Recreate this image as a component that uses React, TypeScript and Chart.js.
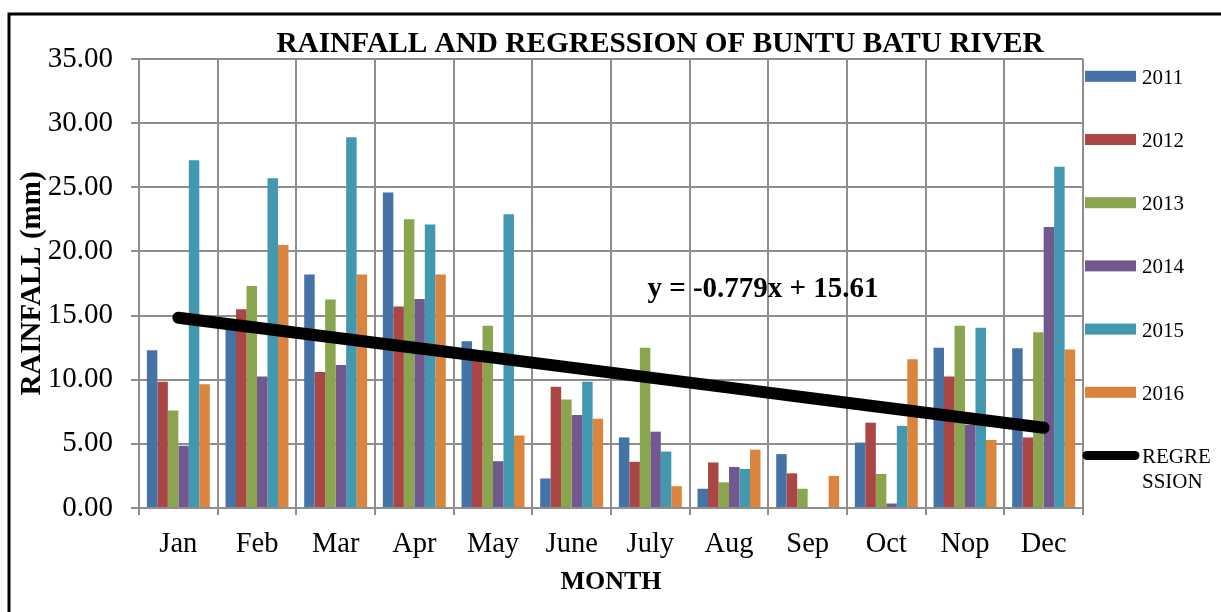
import React, { useEffect, useRef } from 'react';
import { Chart, registerables } from 'chart.js';

Chart.register(...registerables);

const FONT = "'Liberation Serif', 'Times New Roman', Times, serif";

const months = ['Jan', 'Feb', 'Mar', 'Apr', 'May', 'June', 'July', 'Aug', 'Sep', 'Oct', 'Nop', 'Dec'];
const yearLabels = ['2011', '2012', '2013', '2014', '2015', '2016'];
const rain2011 = [12.3, 13.9, 18.2, 24.6, 13.0, 2.3, 5.5, 1.5, 4.2, 5.1, 12.5, 12.45];
const rain2012 = [9.85, 15.5, 10.6, 15.7, 12.0, 9.45, 3.6, 3.55, 2.7, 6.65, 10.25, 5.5];
const rain2013 = [7.6, 17.3, 16.25, 22.5, 14.2, 8.45, 12.5, 2.0, 1.5, 2.65, 14.2, 13.7];
const rain2014 = [4.85, 10.25, 11.15, 16.3, 3.65, 7.25, 5.95, 3.2, 0, 0.35, 6.5, 21.9];
const rain2015 = [27.1, 25.7, 28.9, 22.1, 22.9, 9.85, 4.4, 3.05, 0, 6.4, 14.05, 26.6];
const rain2016 = [9.65, 20.5, 18.2, 18.2, 5.65, 6.95, 1.7, 4.55, 2.5, 11.6, 5.3, 12.35];
const regression = [14.83, 14.05, 13.27, 12.49, 11.72, 10.94, 10.16, 9.38, 8.6, 7.82, 7.04, 6.26];
const yearColors = ['#4572A7', '#AA4643', '#89A54E', '#71588F', '#4198AF', '#DB843D'];

const titleText = 'RAINFALL AND REGRESSION OF BUNTU BATU RIVER';
const equationText = 'y = -0.779x + 15.61';
const regressionLabel = ['REGRE', 'SSION'];

const GRID = '#8e8e8e';

const decorPlugin = {
  id: 'decor',
  beforeDraw(chart: any) {
    const ctx = chart.ctx;
    ctx.save();
    ctx.fillStyle = '#ffffff';
    ctx.fillRect(0, 0, chart.width, chart.height);
    ctx.restore();
  },
  afterDraw(chart: any) {
    const ctx = chart.ctx;
    ctx.save();
    // outer frame
    ctx.strokeStyle = '#000';
    ctx.lineWidth = 3;
    ctx.beginPath();
    ctx.moveTo(9, chart.height + 5);
    ctx.lineTo(9, 14);
    ctx.lineTo(chart.width + 5, 14);
    ctx.stroke();

    // title
    ctx.fillStyle = '#000';
    ctx.font = `bold 29.3px ${FONT}`;
    ctx.textAlign = 'center';
    ctx.textBaseline = 'alphabetic';
    ctx.fillText(titleText, 660, 52);

    // equation
    ctx.font = `bold 29px ${FONT}`;
    ctx.fillText(equationText, 763, 297);

    // legend
    const x0 = 1085;
    const gap = 63.2;
    ctx.textAlign = 'left';
    ctx.font = `21px ${FONT}`;
    yearLabels.forEach((lab, i) => {
      const cy = 76.3 + i * gap;
      ctx.fillStyle = yearColors[i];
      ctx.fillRect(x0, cy - 5.5, 51, 11);
      ctx.fillStyle = '#000';
      ctx.fillText(lab, 1142, cy + 7.5);
    });
    const ry = 76.3 + 6 * gap;
    ctx.strokeStyle = '#000';
    ctx.lineWidth = 9;
    ctx.lineCap = 'round';
    ctx.beginPath();
    ctx.moveTo(1087, ry);
    ctx.lineTo(1135, ry);
    ctx.stroke();
    ctx.fillStyle = '#000';
    ctx.fillText(regressionLabel[0], 1142, 463);
    ctx.fillText(regressionLabel[1], 1142, 488);
    ctx.restore();
  },
};

export default function App() {
  const ref = useRef<HTMLCanvasElement | null>(null);

  useEffect(() => {
    if (!ref.current) return;
    const series = [rain2011, rain2012, rain2013, rain2014, rain2015, rain2016];
    const chart = new Chart(ref.current, {
      type: 'bar',
      data: {
        labels: months,
        datasets: [
          ...series.map((d, i) => ({
            type: 'bar' as const,
            label: yearLabels[i],
            data: d,
            backgroundColor: yearColors[i],
            borderWidth: 0,
            categoryPercentage: 0.8,
            barPercentage: 1,
            order: 1,
          })),
          {
            type: 'line' as const,
            label: 'REGRESSION',
            data: regression,
            borderColor: '#000',
            borderWidth: 12,
            borderCapStyle: 'round',
            borderJoinStyle: 'round',
            pointRadius: 0,
            fill: false,
            tension: 0,
            order: -1,
          } as any,
        ],
      },
      options: {
        responsive: false,
        animation: false,
        devicePixelRatio: 1,
        layout: { padding: { left: 0, right: 138, top: 59, bottom: 0 } },
        plugins: {
          legend: { display: false },
          title: { display: false },
          tooltip: { enabled: false },
        },
        scales: {
          x: {
            grid: { offset: true, color: GRID, lineWidth: 2, tickLength: 7, drawTicks: true },
            border: { color: GRID, width: 2 },
            ticks: { color: '#000', font: { family: FONT, size: 28.5 }, padding: 12, maxRotation: 0, autoSkip: false },
            title: {
              display: true,
              text: 'MONTH',
              color: '#000',
              font: { family: FONT, size: 26, weight: 'bold' },
              padding: { top: 0, bottom: 14 },
            },
            afterFit: (s: any) => { s.height = 104; },
          },
          y: {
            min: 0,
            max: 35,
            grid: { color: GRID, lineWidth: 2, tickLength: 8 },
            border: { color: GRID, width: 2 },
            ticks: {
              stepSize: 5,
              color: '#000',
              font: { family: FONT, size: 29 },
              padding: 18,
              callback: (v: any) => Number(v).toFixed(2),
            },
            title: {
              display: true,
              text: 'RAINFALL (mm)',
              color: '#000',
              font: { family: FONT, size: 29, weight: 'bold' },
              padding: { top: 15, bottom: 0 },
            },
            afterFit: (s: any) => { s.width = 139; },
          },
        },
      },
      plugins: [decorPlugin],
    });
    return () => chart.destroy();
  }, []);

  return (
    <div style={{ position: 'fixed', left: 0, top: 0, width: 1221, height: 612, overflow: 'hidden', background: '#fff' }}>
      <canvas ref={ref} width={1221} height={612} style={{ display: 'block' }} />
    </div>
  );
}
